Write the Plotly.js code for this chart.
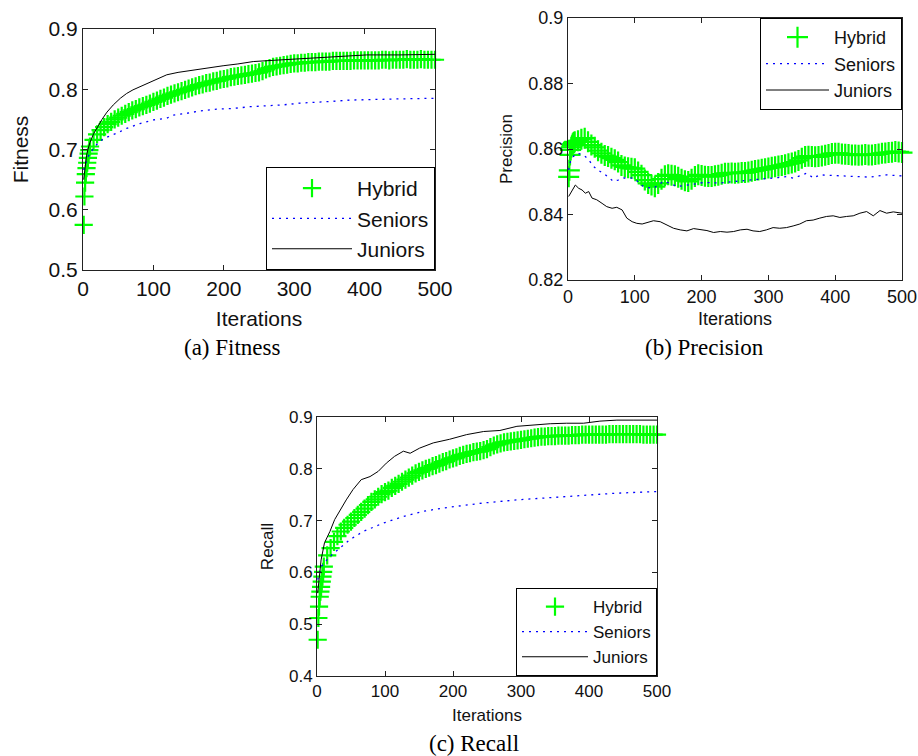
<!DOCTYPE html>
<html>
<head>
<meta charset="utf-8">
<script src="https://cdn.plot.ly/plotly-3.0.1.min.js"></script>
<style>html,body{margin:0;padding:0;background:#fff}#chart{width:918px;height:756px}</style>
</head>
<body>
<div id="chart"></div>
<script>
// ---------- shared ----------
const seriesNames = ["Hybrid", "Seniors", "Juniors"];
const iterTicks = [0, 100, 200, 300, 400, 500];
const hybridIters = [1,2,3,4,5,6,7,8,9,10,
  15,20,25,30,35,40,45,50,55,60,65,70,75,80,85,90,95,100,
  105,110,115,120,125,130,135,140,145,150,155,160,165,170,175,180,185,190,195,200,
  205,210,215,220,225,230,235,240,245,250,255,260,265,270,275,280,285,290,295,300,
  305,310,315,320,325,330,335,340,345,350,355,360,365,370,375,380,385,390,395,400,
  405,410,415,420,425,430,435,440,445,450,455,460,465,470,475,480,485,490,495,500];

// ---------- (a) Fitness ----------
const fitnessTicks = [0.5, 0.6, 0.7, 0.8, 0.9];
const fitnessHybrid = [0.575,0.622,0.645,0.659,0.669,0.678,0.686,0.693,0.699,0.705,
  0.716,0.725,0.732,0.737,0.742,0.746,0.750,0.753,0.756,0.759,0.762,0.765,0.767,0.770,0.772,0.774,0.776,0.779,
  0.781,0.784,0.786,0.789,0.791,0.793,0.795,0.797,0.799,0.801,0.803,0.805,0.807,0.808,0.810,0.811,0.813,0.814,0.816,0.817,
  0.818,0.820,0.821,0.822,0.823,0.824,0.825,0.826,0.827,0.828,0.830,0.833,0.835,0.837,0.838,0.839,0.840,0.841,0.842,0.843,
  0.843,0.844,0.844,0.845,0.845,0.845,0.846,0.846,0.846,0.846,0.847,0.847,0.847,0.847,0.847,0.847,0.848,0.848,0.848,0.848,
  0.848,0.848,0.848,0.848,0.849,0.849,0.848,0.849,0.849,0.849,0.849,0.850,0.849,0.849,0.849,0.850,0.849,0.849,0.849,0.849];
const fitnessSeniorsIters = [1,4,7,12,17,24,35,48,62,81,100,119,128,147,166,190,213,237,261,284,308,332,355,379,403,426,450,500];
const fitnessSeniors = [0.666,0.676,0.688,0.697,0.705,0.714,0.721,0.727,0.735,0.743,0.749,0.752,0.757,0.760,0.764,0.767,0.768,0.771,0.772,0.774,0.777,0.778,0.780,0.782,0.783,0.784,0.784,0.785];
const fitnessJuniorsIters = [1,3,5,7,10,15,20,27,34,43,53,62,71,85,100,119,135,147,170,199,220,242,270,298,330,355,380,403,450,500];
const fitnessJuniors = [0.650,0.675,0.690,0.700,0.712,0.726,0.737,0.750,0.762,0.774,0.785,0.793,0.799,0.806,0.814,0.824,0.828,0.830,0.835,0.839,0.842,0.846,0.848,0.850,0.852,0.854,0.855,0.857,0.857,0.858];

// ---------- (b) Precision ----------
const precisionTicks = [0.82, 0.84, 0.86, 0.88, 0.9];
const precisionHybrid = [0.8515,0.8535,0.8582,0.8597,0.8605,0.8610,0.8615,0.8618,0.8620,0.8622,
  0.8625,0.8630,0.8633,0.8622,0.8612,0.8605,0.8595,0.8587,0.8580,0.8577,0.8572,0.8567,0.8560,0.8550,0.8545,0.8543,0.8541,0.8540,
  0.8530,0.8520,0.8505,0.8495,0.8490,0.8485,0.8495,0.8508,0.8518,0.8521,0.8520,0.8518,0.8514,0.8508,0.8503,0.8501,0.8508,0.8516,0.8521,0.8519,
  0.8517,0.8516,0.8516,0.8518,0.8520,0.8523,0.8526,0.8526,0.8527,0.8526,0.8527,0.8528,0.8528,0.8530,0.8532,0.8534,0.8536,0.8538,0.8540,0.8542,
  0.8544,0.8546,0.8548,0.8550,0.8552,0.8555,0.8557,0.8560,0.8565,0.8572,0.8577,0.8578,0.8577,0.8576,0.8577,0.8579,0.8581,0.8583,0.8586,0.8587,
  0.8587,0.8585,0.8584,0.8583,0.8582,0.8582,0.8581,0.8582,0.8583,0.8582,0.8582,0.8583,0.8585,0.8587,0.8588,0.8589,0.8590,0.8592,0.8591,0.8589];
const precisionSeniorsIters = [1,4,8,13,18,23,30,38,45,53,60,68,75,83,90,98,105,113,120,128,135,143,153,163,173,183,193,203,215,228,240,252,265,277,290,302,315,327,337,347,357,362,367,377,390,402,415,427,440,452,465,477,490,500];
const precisionSeniors = [0.8536,0.8565,0.8577,0.8587,0.8585,0.8582,0.8570,0.8547,0.8535,0.8526,
  0.8515,0.8501,0.8505,0.8511,0.8512,0.8511,0.8500,0.8485,0.8482,0.8480,
  0.8490,0.8501,0.8495,0.8485,0.8488,0.8490,0.8494,0.8498,0.8497,0.8496,
  0.8499,0.8501,0.8503,0.8506,0.8508,0.8511,0.8513,0.8516,0.8511,0.8518,
  0.8526,0.8520,0.8511,0.8521,0.8520,0.8519,0.8518,0.8516,0.8514,0.8514,
  0.8518,0.8521,0.8519,0.8518];
const precisionJuniorsIters = [1,6,11,16,21,26,31,36,43,51,58,66,73,81,88,96,103,111,118,128,138,148,158,168,178,188,198,208,218,228,238,248,258,268,277,287,297,307,317,327,337,347,357,367,377,387,397,407,417,427,437,447,457,467,477,487,500];
const precisionJuniors = [0.8455,0.8475,0.8490,0.8480,0.8475,0.8465,0.8470,0.8450,0.8445,0.8434,
  0.8424,0.8419,0.8422,0.8414,0.8389,0.8378,0.8373,0.8371,0.8375,0.8381,
  0.8378,0.8368,0.8358,0.8353,0.8350,0.8357,0.8355,0.8351,0.8345,0.8348,
  0.8346,0.8348,0.8353,0.8355,0.8350,0.8348,0.8353,0.8360,0.8358,0.8360,
  0.8365,0.8371,0.8381,0.8383,0.8389,0.8394,0.8396,0.8391,0.8394,0.8396,
  0.8404,0.8409,0.8396,0.8412,0.8404,0.8408,0.8404];

// ---------- (c) Recall ----------
const recallTicks = [0.4, 0.5, 0.6, 0.7, 0.8, 0.9];
const recallHybrid = [0.470,0.512,0.534,0.553,0.563,0.572,0.582,0.592,0.601,0.611,
  0.633,0.647,0.659,0.670,0.679,0.686,0.692,0.698,0.705,0.711,0.717,0.723,0.730,0.736,0.741,0.746,0.751,0.755,
  0.758,0.763,0.767,0.771,0.775,0.779,0.783,0.787,0.791,0.794,0.797,0.800,0.802,0.805,0.807,0.810,0.813,0.815,0.818,0.820,
  0.822,0.825,0.827,0.829,0.830,0.832,0.833,0.834,0.836,0.838,0.842,0.845,0.847,0.849,0.851,0.852,0.853,0.854,0.855,0.856,
  0.857,0.858,0.859,0.860,0.861,0.862,0.862,0.863,0.863,0.863,0.864,0.864,0.864,0.864,0.865,0.865,0.865,0.866,0.866,0.866,
  0.866,0.866,0.866,0.866,0.866,0.867,0.867,0.867,0.867,0.867,0.867,0.867,0.867,0.867,0.867,0.866,0.866,0.866,0.866,0.866];
const recallSeniorsIters = [1,6,19,33,48,68,97,127,156,195,245,294,343,392,441,500];
const recallSeniors = [0.586,0.611,0.631,0.647,0.663,0.679,0.695,0.708,0.718,0.726,0.734,0.740,0.744,0.748,0.753,0.756];
const recallJuniorsIters = [1,4,6,11,19,26,33,43,53,65,78,90,102,114,127,137,151,171,195,220,245,269,294,318,343,367,392,416,441,466,500];
const recallJuniors = [0.560,0.599,0.624,0.657,0.679,0.702,0.718,0.740,0.760,0.779,0.785,0.795,0.811,0.824,0.834,0.830,0.840,0.850,0.857,0.866,0.872,0.874,0.882,0.885,0.887,0.888,0.888,0.892,0.894,0.894,0.894];

const captions = ["(a) Fitness", "(b) Precision", "(c) Recall"];

// ---------- build ----------
const GREEN = "#00ff00", BLUE = "#0000ff", BLACK = "#000000";
const SANS = "Liberation Sans, Arial, sans-serif";
const SERIF = "Liberation Serif, Times New Roman, serif";

function panelTraces(xa, ya, leg, hy, snIt, sn, jnIt, jn, msize) {
  return [
    {x: hybridIters, y: hy, xaxis: xa, yaxis: ya, legend: leg, name: seriesNames[0],
     type: "scatter", mode: "markers", cliponaxis: false,
     marker: {symbol: "cross-thin", size: msize, color: GREEN, line: {color: GREEN, width: 2.2}}},
    {x: snIt, y: sn, xaxis: xa, yaxis: ya, legend: leg, name: seriesNames[1],
     type: "scatter", mode: "lines", line: {color: BLUE, width: 1.3, dash: "2px,5px"}},
    {x: jnIt, y: jn, xaxis: xa, yaxis: ya, legend: leg, name: seriesNames[2],
     type: "scatter", mode: "lines", line: {color: BLACK, width: 1}}
  ];
}

const data = [].concat(
  panelTraces("x", "y", "legend", fitnessHybrid, fitnessSeniorsIters, fitnessSeniors, fitnessJuniorsIters, fitnessJuniors, 13),
  panelTraces("x2", "y2", "legend2", precisionHybrid, precisionSeniorsIters, precisionSeniors, precisionJuniorsIters, precisionJuniors, 15),
  panelTraces("x3", "y3", "legend3", recallHybrid, recallSeniorsIters, recallSeniors, recallJuniorsIters, recallJuniors, 13)
);

function xAxis(domain, anchor, fs, standoff) {
  return {domain: domain, anchor: anchor, range: [0, 500], tickmode: "array", tickvals: iterTicks,
    ticks: "inside", ticklen: 5, tickcolor: "#222", showline: true, linecolor: "#222", linewidth: 1,
    mirror: "ticks", showgrid: false, zeroline: false, automargin: false,
    tickfont: {family: SANS, size: fs, color: "#111"},
    title: {text: "Iterations", font: {family: SANS, size: fs, color: "#111"}, standoff: standoff}};
}
function yAxis(domain, anchor, range, tickvals, title, fs, tfs, standoff) {
  return {domain: domain, anchor: anchor, range: range, tickmode: "array", tickvals: tickvals,
    ticks: "inside", ticklen: 5, tickcolor: "#222", showline: true, linecolor: "#222", linewidth: 1,
    mirror: "ticks", showgrid: false, zeroline: false, automargin: false,
    tickfont: {family: SANS, size: fs, color: "#111"},
    title: {text: title, font: {family: SANS, size: tfs, color: "#111"}, standoff: standoff}};
}
function legendBox(x, y, xa, ya, fs, iw) {
  return {x: x, y: y, xanchor: xa, yanchor: ya, xref: "paper", yref: "paper",
    bgcolor: "#ffffff", bordercolor: "#000000", borderwidth: 1,
    font: {family: SANS, size: fs, color: "#111"}, itemwidth: iw, tracegroupgap: 0,
    itemclick: false, itemdoubleclick: false};
}

const layout = {
  width: 918, height: 756, margin: {l: 0, r: 0, t: 0, b: 0},
  paper_bgcolor: "#ffffff", plot_bgcolor: "#ffffff", showlegend: true,
  xaxis: xAxis([83/918, 435/918], "y", 21, 12),
  yaxis: yAxis([1-270/756, 1-29/756], "x", [0.5, 0.9], fitnessTicks, "Fitness", 21, 21, 14),
  xaxis2: xAxis([568/918, 902/918], "y2", 18, 6),
  yaxis2: yAxis([1-280/756, 1-18/756], "x2", [0.82, 0.9], precisionTicks, "Precision", 18, 17, 11),
  xaxis3: xAxis([317/918, 657/918], "y3", 17, 8),
  yaxis3: yAxis([1-676/756, 1-417/756], "x3", [0.4, 0.9], recallTicks, "Recall", 17, 17, 11),
  legend: legendBox(435/918, 1-270/756, "right", "bottom", 21, 80),
  legend2: legendBox(902/918, 1-18/756, "right", "top", 18, 63),
  legend3: legendBox(657/918, 1-676/756, "right", "bottom", 17, 66),
  annotations: [
    {text: captions[0], xref: "paper", yref: "paper", x: 232/918, y: 1-348/756, showarrow: false,
     xanchor: "center", yanchor: "middle", font: {family: SERIF, size: 23, color: "#000"}},
    {text: captions[1], xref: "paper", yref: "paper", x: 704/918, y: 1-348/756, showarrow: false,
     xanchor: "center", yanchor: "middle", font: {family: SERIF, size: 23, color: "#000"}},
    {text: captions[2], xref: "paper", yref: "paper", x: 474/918, y: 1-743/756, showarrow: false,
     xanchor: "center", yanchor: "middle", font: {family: SERIF, size: 23, color: "#000"}}
  ]
};

Plotly.newPlot("chart", data, layout, {staticPlot: true, displayModeBar: false});
</script>
</body>
</html>
